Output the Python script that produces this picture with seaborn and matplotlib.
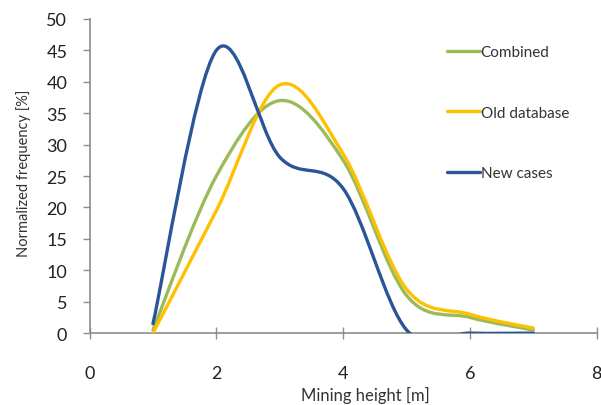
import numpy as np
import matplotlib
matplotlib.use("Agg")
import matplotlib.pyplot as plt
import seaborn as sns
from matplotlib.path import Path
from matplotlib.patches import PathPatch
from matplotlib.lines import Line2D

# data (points at each mining height)
heights = [1, 2, 3, 4, 5, 6, 7]
combined = [0.5, 25.0, 37.0, 27.5, 6.0, 2.5, 0.5]
old_database = [0.0, 19.5, 39.5, 28.5, 7.0, 3.0, 0.8]
new_cases = [1.5, 45.0, 28.0, 23.0, 0.5, 0.0, 0.0]

series_names = ["Combined", "Old database", "New cases"]
series_colors = ["#9BBB59", "#FFC000", "#2A5597"]
x_ticks = [0, 2, 4, 6, 8]
y_ticks = list(range(0, 55, 5))


def smooth_path(x, y):
    # Excel-style smoothed line: cubic bezier through each data point
    pts = np.column_stack([x, y]).astype(float)
    n = len(pts)
    verts = [pts[0]]
    codes = [Path.MOVETO]
    for i in range(n - 1):
        p0 = pts[max(i - 1, 0)]
        p1 = pts[i]
        p2 = pts[i + 1]
        p3 = pts[min(i + 2, n - 1)]
        verts += [p1 + (p2 - p0) / 6, p2 - (p3 - p1) / 6, p2]
        codes += [Path.CURVE4] * 3
    return Path(verts, codes)


sns.set_style("white")
plt.rcParams["font.family"] = ["Lato", "DejaVu Sans"]

fig = plt.figure(figsize=(6.01, 4.06), dpi=100)
ax = fig.add_axes([0.149, 0.177, 0.844, 0.774])

for values, color in zip([combined, old_database, new_cases], series_colors):
    patch = PathPatch(smooth_path(heights, values), facecolor="none",
                      edgecolor=color, lw=2.4, capstyle="round",
                      joinstyle="round", zorder=3)
    ax.add_patch(patch)

ax.set_xlim(0, 8)
ax.set_ylim(0, 50)
ax.set_xticks(x_ticks)
ax.set_yticks(y_ticks)
ax.tick_params(axis="y", direction="out", length=5, width=1, color="#8c8c8c",
               pad=11, labelsize=13, labelcolor="#222222", left=True)
ax.tick_params(axis="x", direction="inout", length=8, width=1, color="#8c8c8c",
               pad=19, labelsize=13, labelcolor="#222222", bottom=True)

sns.despine(ax=ax)
for side in ["left", "bottom"]:
    ax.spines[side].set_color("#8c8c8c")
    ax.spines[side].set_linewidth(1.2)

ax.set_xlabel("Mining height [m]", fontsize=12, color="#333333")
ax.xaxis.set_label_coords(0.543, -0.168)
ax.set_ylabel("Normalized frequency [%]", fontsize=10.5, color="#333333")
ax.yaxis.set_label_coords(-0.115, 0.513)

handles = [Line2D([], [], color=c, lw=2.4) for c in series_colors]
fig.legend(handles, series_names, loc="center left",
           bbox_to_anchor=(447 / 601, 0.72), bbox_transform=fig.transFigure,
           frameon=False, fontsize=11, borderpad=0, borderaxespad=0,
           handlelength=2.15, handletextpad=0.05, labelspacing=3.05,
           labelcolor="#333333")

fig.savefig("out.png", dpi=100)
